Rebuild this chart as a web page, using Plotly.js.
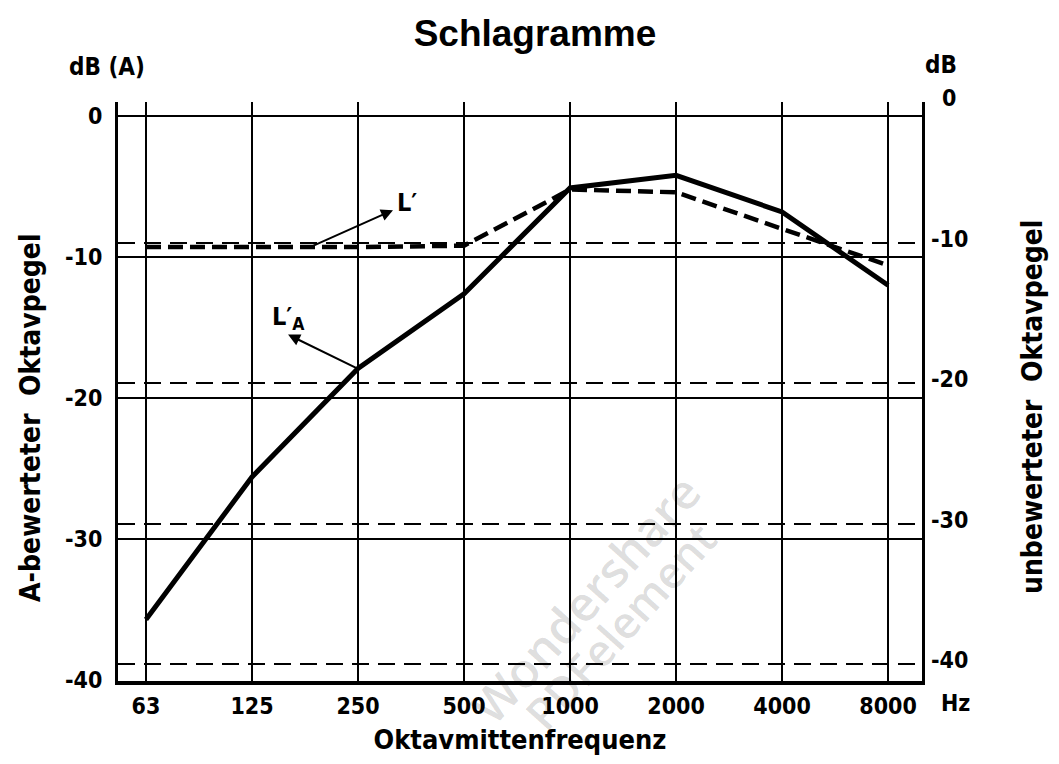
<!DOCTYPE html>
<html>
<head>
<meta charset="utf-8">
<script src="https://cdn.plot.ly/plotly-3.0.1.min.js"></script>
<style>html,body{margin:0;padding:0;background:#fff;}#chart{width:1059px;height:764px;}</style>
</head>
<body>
<div id="chart"></div>
<script>
// ---- data ----
const frequencies = ['63', '125', '250', '500', '1000', '2000', '4000', '8000'];
const levelAWeighted = [-35.7, -25.6, -17.9, -12.6, -5.1, -4.2, -6.8, -12.0];   // L'A, left axis dB(A)
const levelUnweighted = [-10.3, -10.3, -10.3, -10.2, -6.2, -6.4, -9.0, -11.6];   // L', right axis dB
const leftTickVals = [0, -10, -20, -30, -40];
const leftTickText = ['0', '-10', '-20', '-30', '-40'];
const rightTickVals = [0, -10, -20, -30, -40];
const rightTickText = ['0', '-10', '-20', '-30', '-40'];

const NARROW = 'DejaVu Sans Condensed, Liberation Sans Narrow, sans-serif';
const TICK = 23;

const traces = [
  {
    x: frequencies, y: levelAWeighted, type: 'scatter', mode: 'lines',
    line: {color: '#000', width: 5}, yaxis: 'y', hoverinfo: 'skip', showlegend: false
  },
  {
    x: frequencies, y: levelUnweighted, type: 'scatter', mode: 'lines',
    line: {color: '#000', width: 4.5, dash: '15px,7px'}, yaxis: 'y2', hoverinfo: 'skip', showlegend: false
  }
];

const annotations = [
  {text: 'dB (A)', xref: 'paper', yref: 'paper', x: (107 - 118) / 804, y: (681 - 67) / 579,
   showarrow: false, xanchor: 'center', yanchor: 'middle', font: {family: NARROW, size: 24, color: '#000', weight: 'bold'}},
  {text: 'dB', xref: 'paper', yref: 'paper', x: (941 - 118) / 804, y: (681 - 65) / 579,
   showarrow: false, xanchor: 'center', yanchor: 'middle', font: {family: NARROW, size: 24, color: '#000', weight: 'bold'}},
  {text: 'Hz', xref: 'paper', yref: 'paper', x: (955 - 118) / 804, y: (681 - 703) / 579,
   showarrow: false, xanchor: 'center', yanchor: 'middle', font: {family: NARROW, size: TICK, color: '#000', weight: 'bold'}},
  {text: 'A-bewerteter  Oktavpegel', xref: 'paper', yref: 'paper', x: (30 - 118) / 804, y: (681 - 418) / 579,
   textangle: -90, showarrow: false, xanchor: 'center', yanchor: 'middle', font: {family: NARROW, size: 28, color: '#000', weight: 'bold'}},
  {text: 'unbewerteter  Oktavpegel', xref: 'paper', yref: 'paper', x: (1032 - 118) / 804, y: (681 - 407) / 579,
   textangle: -90, showarrow: false, xanchor: 'center', yanchor: 'middle', font: {family: NARROW, size: 28, color: '#000', weight: 'bold'}},
  // curve labels
  {text: 'L′', xref: 'x', yref: 'y', x: 2.46, y: -6.1, showarrow: false, xanchor: 'center', yanchor: 'middle',
   font: {family: NARROW, size: 25, color: '#000', weight: 'bold'}},
  {text: 'L′<sub>A</sub>', xref: 'x', yref: 'y', x: 1.34, y: -14.3, showarrow: false, xanchor: 'center', yanchor: 'middle',
   font: {family: NARROW, size: 25, color: '#000', weight: 'bold'}},
  // arrows (head near the label, tail on the curve)
  {text: '', xref: 'x', yref: 'y', x: 2.33, y: -6.67, axref: 'x', ayref: 'y', ax: 1.55, ay: -9.29,
   showarrow: true, arrowhead: 2, arrowsize: 1.2, arrowwidth: 2, arrowcolor: '#000'},
  {text: '', xref: 'x', yref: 'y', x: 1.34, y: -15.5, axref: 'x', ayref: 'y', ax: 2.02, ay: -18.0,
   showarrow: true, arrowhead: 2, arrowsize: 1.2, arrowwidth: 2, arrowcolor: '#000'},
  // watermark
  {text: 'Wondershare', xref: 'paper', yref: 'paper', x: (585 - 118) / 804, y: (681 - 598) / 579,
   textangle: -48, showarrow: false, xanchor: 'center', yanchor: 'middle',
   font: {family: 'Open Sans, sans-serif', size: 48, color: 'rgba(0,0,0,0.14)', weight: 600}},
  {text: 'PDFelement', xref: 'paper', yref: 'paper', x: (620 - 118) / 804, y: (681 - 626) / 579,
   textangle: -48, showarrow: false, xanchor: 'center', yanchor: 'middle',
   font: {family: 'Open Sans, sans-serif', size: 44, color: 'rgba(0,0,0,0.14)', weight: 600}}
];

// right-hand tick labels (centred, as in the reference)
rightTickVals.forEach((v, i) => {
  annotations.push({text: rightTickText[i], xref: 'paper', yref: 'y2', x: (949 - 118) / 804, y: v, yshift: 4,
    showarrow: false, xanchor: 'center', yanchor: 'middle', font: {family: NARROW, size: TICK, color: '#000', weight: 'bold'}});
});

const layout = {
  width: 1059, height: 764,
  margin: {l: 118, r: 137, t: 102, b: 83, pad: 0},
  paper_bgcolor: '#fff', plot_bgcolor: '#fff',
  showlegend: false,
  title: {text: 'Schlagramme', x: 535 / 1059, xanchor: 'center', y: 1 - 33 / 764, yanchor: 'middle',
    font: {family: 'Liberation Sans, Arial, sans-serif', size: 37, color: '#000', weight: 'bold'}},
  xaxis: {
    type: 'category', range: [-0.264, 7.32],
    showgrid: true, gridcolor: '#000', gridwidth: 1.5,
    showline: true, linecolor: '#000', linewidth: 4,
    ticks: '', ticklabelstandoff: 1,
    tickfont: {family: NARROW, size: TICK, color: '#000', weight: 'bold'},
    title: {text: 'Oktavmittenfrequenz', standoff: 14, font: {family: NARROW, size: 27, color: '#000', weight: 'bold'}},
    fixedrange: true
  },
  yaxis: {
    range: [-40.07, 1.0], tickmode: 'array', tickvals: leftTickVals, ticktext: leftTickText,
    showgrid: true, gridcolor: '#000', gridwidth: 1.5, zeroline: false,
    showline: true, linecolor: '#000', linewidth: 3,
    ticks: '', ticklabelstandoff: 8,
    tickfont: {family: NARROW, size: TICK, color: '#000', weight: 'bold'},
    fixedrange: true
  },
  yaxis2: {
    overlaying: 'y', side: 'right', range: [-41.2, 0.03],
    tickmode: 'array', tickvals: rightTickVals, ticktext: rightTickText,
    showgrid: true, gridcolor: '#000', gridwidth: 2, griddash: '17px,9px', zeroline: false,
    showline: true, linecolor: '#000', linewidth: 3,
    ticks: '', showticklabels: false,
    fixedrange: true
  },
  annotations: annotations
};

Plotly.newPlot('chart', traces, layout, {staticPlot: true, displayModeBar: false});
</script>
</body>
</html>
